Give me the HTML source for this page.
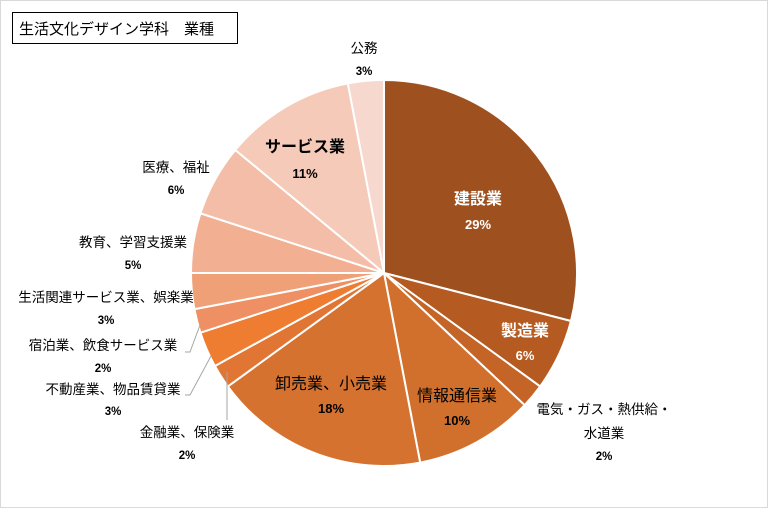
<!DOCTYPE html>
<html><head><meta charset="utf-8"><style>
html,body{margin:0;padding:0;background:#fff;}
svg text{font-family:"Liberation Sans","Noto Sans CJK JP",sans-serif;}
</style></head><body>
<svg id="s" width="768" height="508" viewBox="0 0 768 508" xmlns="http://www.w3.org/2000/svg">
<rect x="0.5" y="0.5" width="767" height="507" fill="#fff" stroke="#d9d9d9"/>
<rect x="12.5" y="12.5" width="225" height="31" fill="#fff" stroke="#000"/>
<text x="19" y="34" font-size="15" fill="#000">生活文化デザイン学科　業種</text>
<g id="pie"></g>
<g font-size="13.5" fill="#000" text-anchor="middle">
<text x="364" y="53">公務</text><text x="364" y="75" font-size="11.5" font-weight="bold">3%</text>
<text x="176" y="172">医療、福祉</text><text x="176" y="194" font-size="11.5" font-weight="bold">6%</text>
<text x="133" y="247">教育、学習支援業</text><text x="133" y="269" font-size="11.5" font-weight="bold">5%</text>
<text x="106" y="302">生活関連サービス業、娯楽業</text><text x="106" y="324" font-size="11.5" font-weight="bold">3%</text>
<text x="103" y="350">宿泊業、飲食サービス業</text><text x="103" y="372" font-size="11.5" font-weight="bold">2%</text>
<text x="113" y="394">不動産業、物品賃貸業</text><text x="113" y="415" font-size="11.5" font-weight="bold">3%</text>
<text x="187" y="437">金融業、保険業</text><text x="187" y="459" font-size="11.5" font-weight="bold">2%</text>
<text x="604" y="414">電気・ガス・熱供給・</text><text x="604" y="438">水道業</text><text x="604" y="460" font-size="11.5" font-weight="bold">2%</text>
</g>
<g font-size="16" fill="#fff" text-anchor="middle" font-weight="bold">
<text x="478" y="204">建設業</text><text x="478" y="229" font-size="13">29%</text>
<text x="525" y="336">製造業</text><text x="525" y="360" font-size="13">6%</text>
<text x="305" y="152" fill="#000">サービス業</text><text x="305" y="178" font-size="13" fill="#000">11%</text>
</g>
<g font-size="16" fill="#000" text-anchor="middle">
<text x="457" y="401">情報通信業</text><text x="457" y="425" font-size="13" font-weight="bold">10%</text>
<text x="331" y="389">卸売業、小売業</text><text x="331" y="413" font-size="13" font-weight="bold">18%</text>
</g>
<g stroke="#a6a6a6" fill="none" stroke-width="1">
<polyline points="200,325 190,352 185,352"/>
<polyline points="211,356 190,395 185,395"/>
<polyline points="227,372 227,420"/>
</g>
</svg>
<script>
var v=[29,6,2,10,18,2,3,2,3,5,6,11,3];
var c=["#9E511F","#B55B21","#C46427","#D1702D","#D67230","#E17634","#EE7D32","#EE9064","#F0A077","#F2AF92","#F3BDA7","#F5CAB9","#F7D8CE"];
var cx=384,cy=273,r=193,a=0,g=document.getElementById("pie"),h="";
for(var i=0;i<v.length;i++){var a2=a+v[i]/100*2*Math.PI;
var x1=cx+r*Math.sin(a),y1=cy-r*Math.cos(a),x2=cx+r*Math.sin(a2),y2=cy-r*Math.cos(a2);
h+='<path d="M'+cx+','+cy+'L'+x1+','+y1+'A'+r+','+r+' 0 '+(v[i]>50?1:0)+' 1 '+x2+','+y2+'Z" fill="'+c[i]+'" stroke="#fff" stroke-width="2"/>';a=a2;}
g.innerHTML=h;
</script>
</body></html>
